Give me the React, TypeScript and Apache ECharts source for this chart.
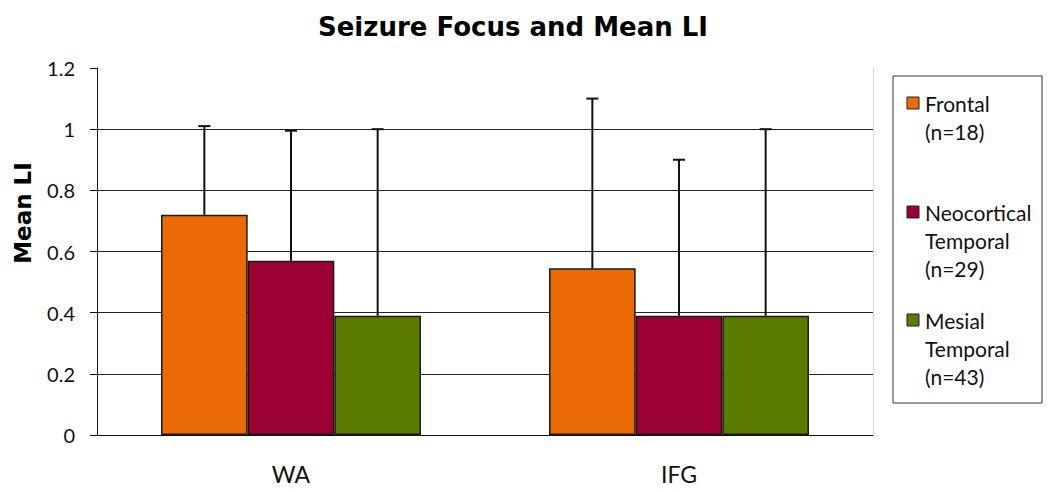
import React, { useEffect, useRef } from "react";
import * as echarts from "echarts";

const categories = ["WA", "IFG"];
const seriesNames = ["Frontal", "Neocortical Temporal", "Mesial Temporal"];
const legendLabels = ["Frontal\n(n=18)", "Neocortical\nTemporal\n(n=29)", "Mesial\nTemporal\n(n=43)"];
const frontal = [0.72, 0.545];
const neocortical = [0.57, 0.39];
const mesial = [0.39, 0.39];
const frontalUpper = [1.01, 1.1];
const neocorticalUpper = [0.995, 0.9];
const mesialUpper = [1.0, 1.0];
const yTicks = { min: 0, max: 1.2, interval: 0.2 };

const colors = ["#EC6A06", "#9C0133", "#5B7A00"];
const FONT = "Lato, 'Open Sans', sans-serif";
const BOLD_FONT = "'DejaVu Sans', sans-serif";
const CAT_GAP = 0.33;

export default function App() {
  const ref = useRef<HTMLDivElement>(null);
  useEffect(() => {
    document.body.style.margin = "0";
    if (!ref.current) return;
    const chart = echarts.init(ref.current, undefined, { renderer: "svg" });
    const means = [frontal, neocortical, mesial];
    const uppers = [frontalUpper, neocorticalUpper, mesialUpper];

    const barSeries = means.map((vals, i) => ({
      name: seriesNames[i],
      type: "bar",
      data: vals,
      barGap: "0%",
      barCategoryGap: CAT_GAP * 100 + "%",
      itemStyle: { color: colors[i], borderColor: "#1a1a1a", borderWidth: 1.5 },
      z: 3,
    }));

    const errSeries = means.map((vals, i) => ({
      type: "custom",
      name: seriesNames[i] + " err",
      data: vals.map((v, k) => [k, v, uppers[i][k]]),
      z: 4,
      renderItem: (params: any, api: any) => {
        const c = api.value(0);
        const lo = api.coord([c, api.value(1)]);
        const hi = api.coord([c, api.value(2)]);
        const band = api.size([1, 0])[0];
        const bw = (band * (1 - CAT_GAP)) / 3;
        const x = lo[0] + (i - 1) * bw;
        const style = { stroke: "#111", lineWidth: 2 };
        return {
          type: "group",
          children: [
            { type: "line", shape: { x1: x, y1: lo[1], x2: x, y2: hi[1] }, style },
            { type: "line", shape: { x1: x - 6, y1: hi[1], x2: x + 6, y2: hi[1] }, style },
          ],
        };
      },
    }));

    const legendGraphics: any[] = [
      {
        type: "rect",
        shape: { x: 893, y: 76, width: 149, height: 327 },
        style: { fill: "#fff", stroke: "#333", lineWidth: 1 },
      },
    ];
    const legendY = [103, 212, 320];
    legendLabels.forEach((lab, i) => {
      legendGraphics.push({
        type: "rect",
        shape: { x: 907, y: legendY[i] - 6, width: 12, height: 12 },
        style: { fill: colors[i], stroke: "#222", lineWidth: 1 },
      });
      legendGraphics.push({
        type: "text",
        x: 925,
        y: legendY[i] - 14,
        style: {
          text: lab,
          font: "21px " + FONT,
          fill: "#111",
          lineHeight: 28,
          verticalAlign: "top",
        },
      });
    });

    chart.setOption({
      animation: false,
      title: {
        text: "Seizure Focus and Mean LI",
        left: 508,
        textAlign: "center",
        top: 9,
        textStyle: { fontFamily: BOLD_FONT, fontWeight: "bold", fontSize: 26, color: "#000" },
      },
      grid: { left: 97, right: 177, top: 68, bottom: 57 },
      xAxis: {
        type: "category",
        data: categories,
        axisLine: { lineStyle: { color: "#111", width: 1 } },
        axisTick: { length: 7, lineStyle: { color: "#111" } },
        axisLabel: { fontFamily: FONT, fontSize: 23, color: "#111", margin: 27 },
      },
      yAxis: [
        {
          type: "value",
          min: yTicks.min,
          max: yTicks.max,
          interval: yTicks.interval,
          axisLine: { show: true, lineStyle: { color: "#111", width: 1 } },
          axisTick: { show: true, length: 7, lineStyle: { color: "#111" } },
          axisLabel: { fontFamily: FONT, fontSize: 20, color: "#111", margin: 22 },
          splitLine: { show: true, showMaxLine: false, lineStyle: { color: "#222", width: 1 } },
        },
        {
          type: "value",
          position: "right",
          min: yTicks.min,
          max: yTicks.max,
          interval: yTicks.interval,
          axisLine: { show: true, lineStyle: { color: "#d8d8d8", width: 1 } },
          axisTick: { show: false },
          axisLabel: { show: false },
          splitLine: { show: false },
        },
      ],
      series: [...barSeries, ...errSeries],
      graphic: [
        {
          type: "text",
          x: 23,
          y: 213,
          rotation: Math.PI / 2,
          style: {
            text: "Mean LI",
            font: "bold 23px " + BOLD_FONT,
            fill: "#000",
            align: "center",
            verticalAlign: "middle",
          },
        },
        ...legendGraphics,
      ],
    });
    return () => chart.dispose();
  }, []);
  return <div ref={ref} style={{ width: 1050, height: 492 }} />;
}
